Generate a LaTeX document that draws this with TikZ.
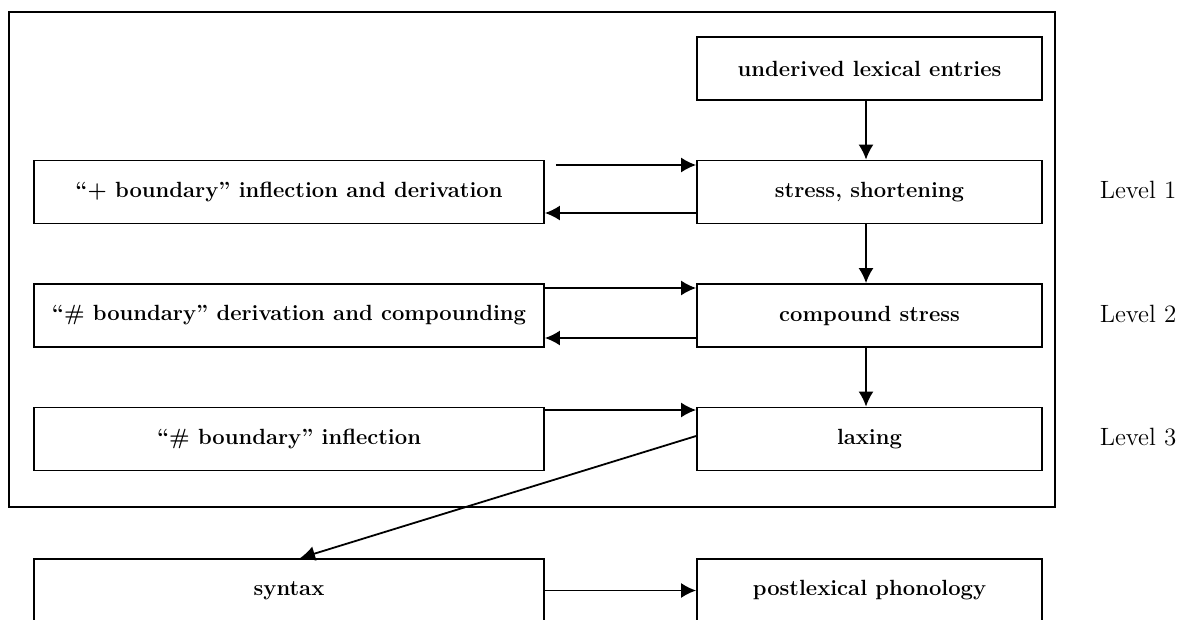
\documentclass[tikz,border=0pt]{standalone}
\usepackage{tikz}
\usetikzlibrary{arrows.meta}

\begin{document}
\begin{tikzpicture}[x=0.5pt,y=-0.5pt,
    box/.style={draw, line width=0.9pt, minimum height=31.5pt, inner sep=0pt, font=\fontsize{11}{13}\selectfont\bfseries},
    leftbox/.style={box, minimum width=255pt},
    rightbox/.style={box, minimum width=172.5pt},
    arr/.style={line width=0.9pt, -{Latex[length=7.5pt,width=7.5pt]}},
    lvl/.style={font=\fontsize{12.5}{15}\selectfont}]
            % Fixed Bounding Box for alignment
            \useasboundingbox (0,0) rectangle (1181,621);
            \clip (0,0) rectangle (1181,619);

            % Lexicon frame
            \draw[line width=0.9pt] (9,12) rectangle (1055,507);

            % Right column
            \node[rightbox] (entries) at (869.5,68.5) {underived lexical entries};
            \node[rightbox] (stress) at (869.5,192) {stress, shortening};
            \node[rightbox] (cstress) at (869.5,315.5) {compound stress};
            \node[rightbox] (laxing) at (869.5,439) {laxing};
            \node[rightbox] (postlex) at (869.5,590.5) {postlexical phonology};

            % Left column
            \node[leftbox] (plus) at (289,192) {``+ boundary'' inflection and derivation};
            \node[leftbox] (hderiv) at (289,315.5) {``\# boundary'' derivation and compounding};
            \node[leftbox] (hinfl) at (289,439) {``\# boundary'' inflection};
            \node[leftbox] (syntax) at (289,590.5) {syntax};

            % Levels
            \node[lvl] (lev1) at (1138,190) {Level 1};
            \node[lvl] (lev2) at (1138,313.5) {Level 2};
            \node[lvl] (lev3) at (1138,437) {Level 3};

            % Arrows
            \draw[arr] ([xshift=-1.75pt]entries.south) -- ([xshift=-1.75pt]stress.north);
            \draw[arr] ([xshift=-1.75pt]stress.south) -- ([xshift=-1.75pt]cstress.north);
            \draw[arr] ([xshift=-1.75pt]cstress.south) -- ([xshift=-1.75pt]laxing.north);
            \draw[arr] ([xshift=5.5pt,yshift=13.5pt]plus.east) -- ([yshift=13.5pt]stress.west);
            \draw[arr] ([yshift=-10.5pt]stress.west) -- ([yshift=-10.5pt]plus.east);
            \draw[arr] ([yshift=13.75pt]hderiv.east) -- ([yshift=13.75pt]cstress.west);
            \draw[arr] ([yshift=-11.25pt]cstress.west) -- ([yshift=-11.25pt]hderiv.east);
            \draw[arr] ([yshift=14.5pt]hinfl.east) -- ([yshift=14.5pt]laxing.west);
            \draw[arr] ([yshift=1.5pt]laxing.west) -- ([xshift=5.5pt]syntax.north);
            \draw[arr] (syntax.east) -- (postlex.west);
        \end{tikzpicture}
\end{document}
